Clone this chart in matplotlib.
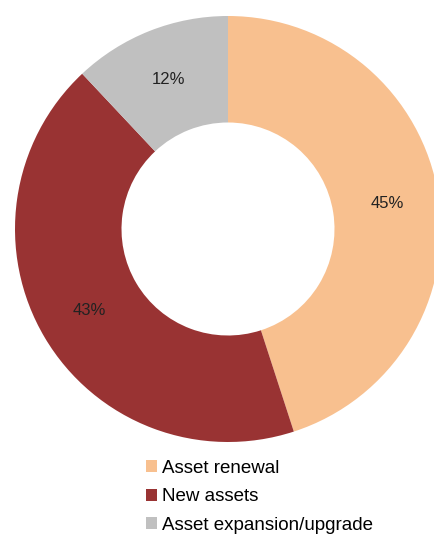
import matplotlib
matplotlib.use("Agg")
import matplotlib.pyplot as plt
from matplotlib.patches import Patch
from matplotlib import font_manager

categories = ["Asset renewal", "New assets", "Asset expansion/upgrade"]
shares = [45, 43, 12]
colors = ["#F8C08F", "#993333", "#C0C0C0"]

names = {f.name for f in font_manager.fontManager.ttflist}
family = "Liberation Sans Narrow" if "Liberation Sans Narrow" in names else "Liberation Sans"
plt.rcParams["font.family"] = [family, "DejaVu Sans"]

W, H = 434, 548
fig = plt.figure(figsize=(W / 100, H / 100), dpi=100)
fig.patch.set_facecolor("white")

# donut centre (228, 229) px from top-left, outer radius 213 px
cx, cy, r = 228, 229, 213
ax = fig.add_axes([(cx - r) / W, 1 - (cy + r) / H, 2 * r / W, 2 * r / H])

wedges, texts = ax.pie(
    shares, colors=colors, startangle=90, counterclock=False, radius=1.0,
    wedgeprops=dict(width=0.5, edgecolor="none"),
    labels=[f"{v}%" for v in shares], labeldistance=0.755,
    textprops=dict(fontsize=12, color="#222222"),
)
ax.set_xlim(-1, 1)
ax.set_ylim(-1, 1)
ax.set_aspect("equal")
ax.axis("off")
for t in texts:
    t.set_horizontalalignment("center")
    t.set_verticalalignment("center")
    t.set_clip_on(False)
for w in wedges:
    w.set_clip_on(False)

handles = [Patch(facecolor=c, edgecolor="none") for c in colors]
fig.legend(
    handles, categories, loc="upper left",
    bbox_to_anchor=(146 / W, 1 - 460 / H), frameon=False,
    fontsize=13.5, handlelength=0.6, handleheight=0.6, handletextpad=0.27,
    labelspacing=0.6, borderaxespad=0, borderpad=0,
)

fig.savefig("out.png", dpi=100, facecolor="white")
